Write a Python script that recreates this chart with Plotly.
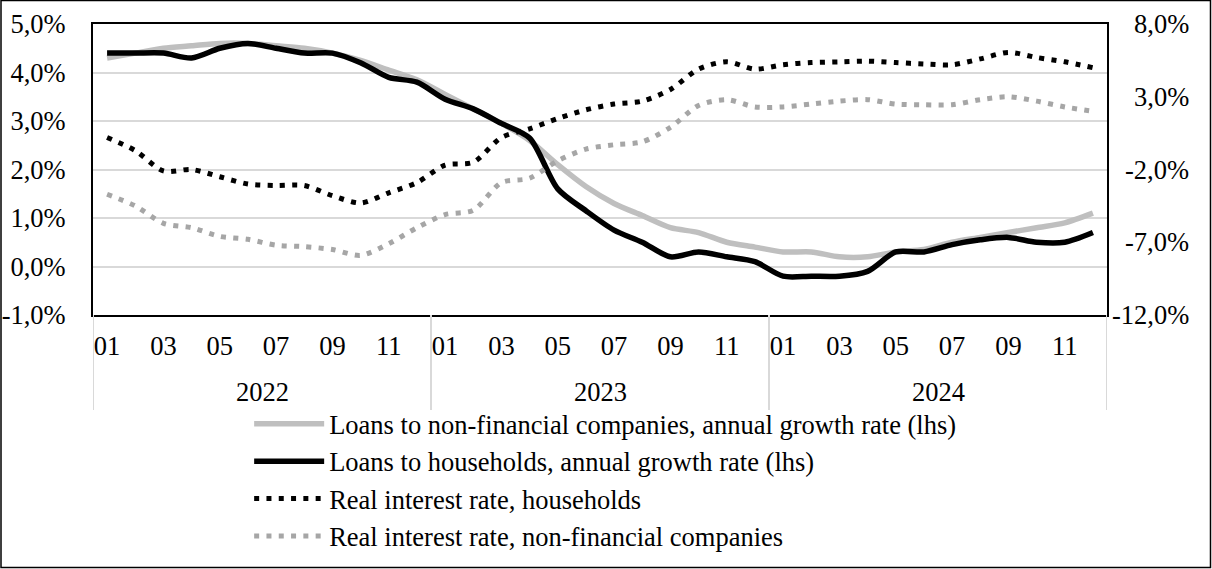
import plotly.graph_objects as go

# Monthly observations, January 2022 - December 2024
years = ["2022", "2023", "2024"]
month_labels = ["01", "02", "03", "04", "05", "06", "07", "08", "09", "10", "11", "12"]

# Annual growth rates of loans, % (left axis)
loans_nfc = [4.3, 4.4, 4.5, 4.55, 4.6, 4.6, 4.55, 4.5, 4.4, 4.25, 4.05, 3.85,
             3.55, 3.25, 2.95, 2.6, 2.1, 1.65, 1.3, 1.05, 0.8, 0.7, 0.5, 0.4,
             0.3, 0.3, 0.2, 0.2, 0.3, 0.35, 0.5, 0.6, 0.7, 0.8, 0.9, 1.1]
loans_hh = [4.4, 4.4, 4.4, 4.3, 4.5, 4.6, 4.5, 4.4, 4.4, 4.2, 3.9, 3.8,
            3.45, 3.25, 2.95, 2.65, 1.6, 1.15, 0.75, 0.5, 0.2, 0.3, 0.2, 0.1,
            -0.2, -0.2, -0.2, -0.1, 0.3, 0.3, 0.45, 0.55, 0.6, 0.5, 0.5, 0.7]

# Real interest rates, % (right axis)
real_rate_hh = [0.2, -0.7, -2.1, -2.0, -2.5, -3.0, -3.1, -3.1, -3.8, -4.3, -3.6, -2.9,
                -1.7, -1.5, 0.2, 0.8, 1.5, 2.1, 2.5, 2.7, 3.5, 4.9, 5.4, 4.9,
                5.2, 5.35, 5.4, 5.45, 5.35, 5.25, 5.2, 5.6, 6.05, 5.7, 5.4, 5.0]
real_rate_nfc = [-3.7, -4.5, -5.7, -6.0, -6.6, -6.8, -7.2, -7.3, -7.5, -7.9, -7.1, -6.0,
                 -5.1, -4.8, -2.9, -2.6, -1.4, -0.6, -0.3, -0.1, 0.9, 2.4, 2.8, 2.3,
                 2.3, 2.5, 2.7, 2.8, 2.5, 2.45, 2.45, 2.8, 3.0, 2.7, 2.3, 2.0]

left_ticks = [-1, 0, 1, 2, 3, 4, 5]
right_ticks = [8, 3, -2, -7, -12]

names = [
    "Loans to non-financial companies, annual growth rate (lhs)",
    "Loans to households, annual growth rate (lhs)",
    "Real interest rate, households",
    "Real interest rate, non-financial companies",
]


def pct(v):
    return f"{v:.1f}%".replace(".", ",")


FONT = "Liberation Serif"
FS = 26.5
n = len(years) * len(month_labels)
x = list(range(n))

fig = go.Figure()
series = [
    (loans_nfc, "y", dict(color="#bfbfbf", width=5.5)),
    (loans_hh, "y", dict(color="#000000", width=5.5)),
    (real_rate_hh, "y2", dict(color="#000000", width=5, dash="5px,7.3px")),
    (real_rate_nfc, "y2", dict(color="#a6a6a6", width=5, dash="5px,7.3px")),
]
for i, (vals, ax, ln) in enumerate(series):
    fig.add_trace(go.Scatter(
        x=x, y=vals, yaxis=ax, name=names[i], mode="lines",
        line=dict(shape="spline", smoothing=0.8, **ln),
        legendgroup=f"g{i}", showlegend=True,
    ))

tickvals = [i for i in x if i % 2 == 0]
ticktext = [month_labels[i % 12] for i in tickvals]

fig.update_layout(
    width=1212, height=569,
    margin=dict(l=93, r=105, t=24, b=254, autoexpand=False),
    paper_bgcolor="white", plot_bgcolor="white",
    font=dict(family=FONT, size=FS, color="#000000"),
    showlegend=True,
    legend=dict(
        x=0.154, y=-0.292, xanchor="left", yanchor="top",
        font=dict(family=FONT, size=FS, color="#000000"),
        itemwidth=70, tracegroupgap=0, bgcolor="rgba(0,0,0,0)",
    ),
    xaxis=dict(
        range=[-0.5, n - 0.5], tickvals=tickvals, ticktext=ticktext,
        showgrid=False, zeroline=False, showline=True, linecolor="#000000",
        linewidth=2, mirror=True, ticks="", ticklabelstandoff=6,
        tickfont=dict(family=FONT, size=FS, color="#000000"),
    ),
    yaxis=dict(
        range=[-1, 5], tickvals=left_ticks, ticktext=[pct(v) for v in left_ticks],
        showgrid=True, gridcolor="#d9d9d9", gridwidth=1.5, zeroline=False,
        showline=True, linecolor="#000000", linewidth=2, mirror=True,
        ticks="", ticklabelstandoff=20,
        tickfont=dict(family=FONT, size=FS, color="#000000"),
    ),
    yaxis2=dict(
        range=[-12, 8], overlaying="y", side="right", tickvals=right_ticks,
        showticklabels=False, showgrid=False, zeroline=False, showline=False,
    ),
)

# Right-axis labels, right aligned against a common edge
for v in right_ticks:
    fig.add_annotation(
        xref="paper", yref="y2", x=1 + 84 / 1014, y=v, xanchor="right",
        yanchor="middle", showarrow=False, text=pct(v),
        font=dict(family=FONT, size=FS, color="#000000"),
    )

# Year group labels and separators under the month labels
for k, yr in enumerate(years):
    fig.add_annotation(
        xref="x", yref="paper", x=k * 12 + 5.5, y=-(392 - 315) / 291,
        yanchor="middle", showarrow=False, text=yr,
        font=dict(family=FONT, size=FS, color="#000000"),
    )
for k in range(len(years) + 1):
    fig.add_shape(
        type="line", xref="x", yref="paper", x0=k * 12 - 0.5, x1=k * 12 - 0.5,
        y0=0, y1=-(410 - 315) / 291, line=dict(color="#d9d9d9", width=2),
    )

# Outer frame of the chart
fig.add_shape(
    type="rect", xref="paper", yref="paper",
    x0=-92 / 1014, x1=1 + 103.5 / 1014, y0=-252.5 / 291, y1=1 + 23.5 / 291,
    line=dict(color="#000000", width=1.5), fillcolor="rgba(0,0,0,0)",
)

fig.write_html("out.html")
